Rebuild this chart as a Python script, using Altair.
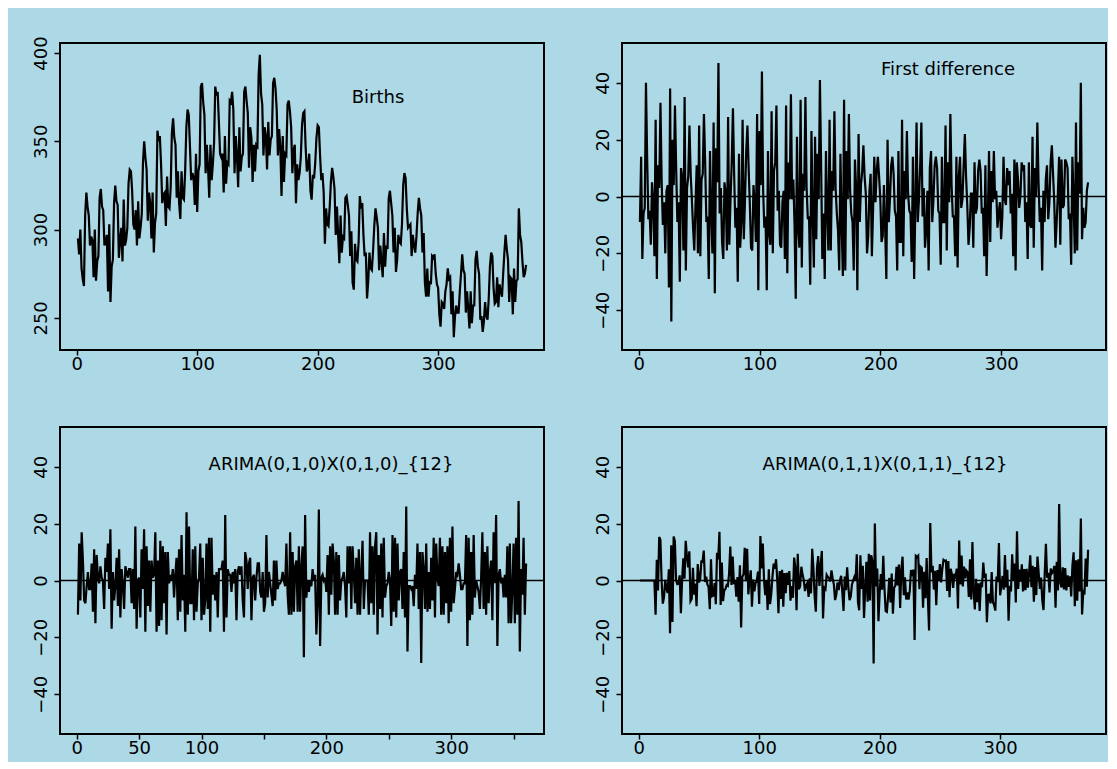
import altair as alt
import pandas as pd
import numpy as np

# Monthly births (thousands), Jan 1948 .. Jan 1979
births = [
    295, 286, 300, 278, 272, 268, 308, 321, 313, 308, 291, 296,
    294, 273, 300, 271, 282, 285, 318, 323, 313, 311, 291, 293,
    297, 265, 303, 259, 279, 283, 315, 325, 316, 314, 284, 294,
    301, 282, 317, 291, 294, 301, 326, 334, 333, 322, 303, 300,
    311, 291, 316, 295, 301, 309, 338, 350, 341, 334, 305, 321,
    315, 295, 321, 287, 304, 309, 356, 350, 353, 337, 315, 320,
    321, 302, 330, 313, 312, 324, 355, 363, 352, 348, 318, 333,
    315, 306, 333, 318, 317, 333, 358, 368, 365, 347, 328, 332,
    330, 314, 343, 310, 333, 337, 381, 383, 372, 365, 332, 348,
    335, 318, 348, 328, 337, 349, 381, 376, 378, 361, 343, 341,
    343, 321, 353, 326, 338, 337, 373, 372, 378, 368, 332, 353,
    342, 324, 358, 333, 341, 343, 378, 381, 373, 366, 335, 358,
    352, 327, 348, 333, 348, 347, 388, 399, 377, 371, 342, 358,
    353, 334, 361, 342, 351, 353, 383, 386, 380, 368, 342, 357,
    347, 319, 353, 327, 343, 342, 371, 373, 367, 358, 332, 345,
    348, 315, 337, 328, 332, 341, 359, 366, 367, 347, 333, 335,
    343, 322, 317, 331, 329, 338, 352, 359, 358, 342, 328, 332,
    321, 292, 312, 303, 302, 313, 327, 335, 330, 323, 297, 313,
    297, 281, 308, 287, 296, 295, 318, 319, 314, 308, 285, 299,
    270, 266, 292, 283, 282, 293, 319, 312, 315, 297, 285, 287,
    261, 271, 287, 278, 277, 288, 302, 312, 307, 301, 277, 291,
    282, 273, 298, 279, 291, 289, 318, 322, 315, 308, 287, 301,
    276, 283, 297, 293, 292, 303, 325, 332, 329, 312, 301, 302,
    303, 285, 297, 291, 287, 296, 309, 318, 312, 308, 287, 298,
    270, 262, 278, 262, 271, 269, 285, 284, 286, 275, 269, 267,
    252, 245, 259, 258, 255, 265, 269, 278, 272, 273, 252, 265,
    239, 251, 257, 253, 253, 265, 275, 286, 277, 275, 253, 265,
    255, 244, 265, 247, 257, 257, 283, 288, 279, 275, 249, 251,
    242, 248, 259, 251, 249, 261, 279, 287, 285, 267, 258, 259,
    273, 256, 269, 265, 262, 275, 287, 297, 289, 283, 259, 273,
    272, 252, 278, 259, 271, 272, 312, 297, 293, 282, 273, 275,
    280,
]

panel_titles = ["Births", "First difference",
                "ARIMA(0,1,0)X(0,1,0)_{12}", "ARIMA(0,1,1)X(0,1,1)_{12}"]
x_ticks = [0, 100, 200, 300]
x_ticks_50 = [0, 50, 100, 150, 200, 250, 300, 350]
x_labels_50 = [0, 50, 100, 200, 300]
y_ticks_births = [250, 300, 350, 400]
y_ticks_diff = [-40, -20, 0, 20, 40]
ma1, sma1 = -0.4734, -0.7861  # fitted MA coefficients of the airline model

b = np.array(births, dtype=float)
d1 = np.diff(b)
d12 = np.diff(b[12:] - b[:-12])
resid = np.zeros(len(b))
for t in range(13, len(b)):
    resid[t] = (d12[t - 13] - ma1 * resid[t - 1] - sma1 * resid[t - 12]
                - ma1 * sma1 * resid[t - 13])


def rdom(n):
    pad = (n - 1) * 0.04
    return [1 - pad, n + pad]


FONT = "DejaVu Sans"
W, H = 484, 307


def panel(values, ydom, yticks, title, tx, ty, xticks, zero=True, label_vals=None):
    df = pd.DataFrame({"t": np.arange(1, len(values) + 1), "v": values})
    xkw = dict(values=xticks, title=None, grid=False, domain=False, tickSize=5,
               tickWidth=1.5, tickColor="black", labelPadding=0, labelFont=FONT,
               labelFontSize=18, labelColor="black", labelFlush=False,
               labelOverlap=False, minExtent=24, maxExtent=24)
    if label_vals is not None:
        xkw["labelExpr"] = ("indexof([" + ",".join(str(v) for v in label_vals)
                            + "], datum.value) >= 0 ? datum.label : ''")
    xaxis = alt.Axis(**xkw)
    yaxis = alt.Axis(values=yticks, title=None, grid=False, domain=False, tickSize=6,
                     tickWidth=1.5, tickColor="black", labelPadding=4, labelFont=FONT,
                     labelFontSize=18, labelColor="black", labelAngle=270,
                     labelAlign="center", labelBaseline="bottom", labelFlush=False,
                     labelOverlap=False, minExtent=36, maxExtent=36)
    xs = alt.Scale(domain=rdom(len(values)), nice=False, zero=False)
    ys = alt.Scale(domain=ydom, nice=False, zero=False)
    line = alt.Chart(df).mark_line(color="black", strokeWidth=2.2, clip=True).encode(
        x=alt.X("t:Q", scale=xs, axis=xaxis),
        y=alt.Y("v:Q", scale=ys, axis=yaxis),
    )
    layers = []
    if zero:
        rule = alt.Chart(pd.DataFrame({"v": [0.0]})).mark_rule(
            color="black", strokeWidth=1.5).encode(y=alt.Y("v:Q", scale=ys, axis=yaxis))
        layers.append(rule)
    layers.append(line)
    txt = alt.Chart(pd.DataFrame({"label": [title]})).mark_text(
        font=FONT, fontSize=18, color="black").encode(
        x=alt.value(tx), y=alt.value(ty), text="label:N")
    layers.append(txt)
    return alt.layer(*layers).properties(width=W, height=H)


tl = panel(b, [231.8, 405.7], y_ticks_births, panel_titles[0], 318, 55, x_ticks, zero=False)
tr = panel(d1, [-54, 54], y_ticks_diff, panel_titles[1], 326, 27, x_ticks)
bl = panel(d12, [-54, 54], y_ticks_diff, panel_titles[2], 271, 38, x_ticks_50,
           label_vals=x_labels_50)
br = panel(resid, [-54, 54], y_ticks_diff, panel_titles[3], 263, 38, x_ticks)

chart = alt.concat(tl, tr, bl, br, columns=2, spacing={"row": 51, "column": 39}).properties(
    background="#ADD8E6",
    padding={"left": 15, "top": 26, "right": 0, "bottom": 3},
).configure(font=FONT).configure_view(stroke="black", strokeWidth=2)

chart.save("out.html", embed_options={"renderer": "svg", "actions": False})
